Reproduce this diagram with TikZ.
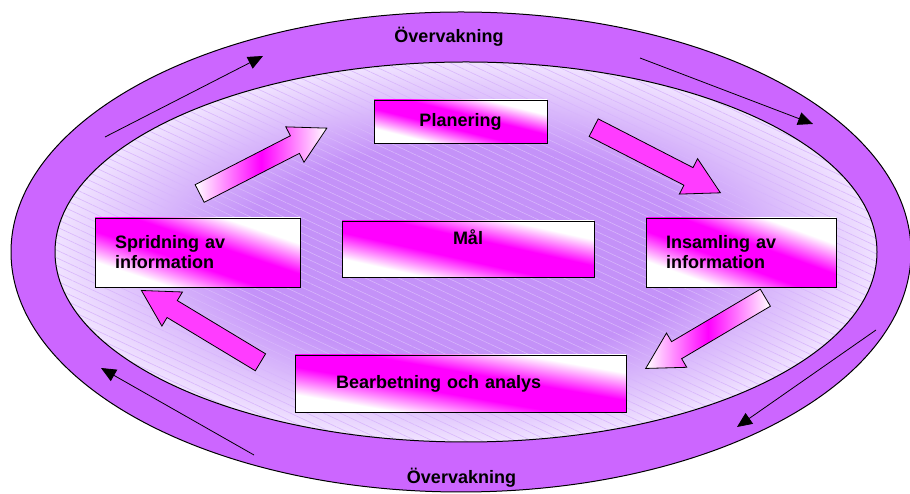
\documentclass[tikz,border=0pt]{standalone}
\usepackage{fontspec}
\setmainfont{Liberation Sans}
\usetikzlibrary{shapes.arrows, arrows.meta, patterns.meta}

\definecolor{ring}{RGB}{204,102,255}
\definecolor{lav}{RGB}{196,146,248}
\definecolor{pale}{RGB}{240,226,255}
\definecolor{hatch}{RGB}{216,182,252}
\definecolor{mag}{RGB}{255,0,255}
\definecolor{magsolid}{RGB}{255,60,255}
\pgfdeclareradialshading{glow}{\pgfpoint{0bp}{0bp}}{color(0bp)=(lav); color(14bp)=(lav); color(25bp)=(pale); color(50bp)=(pale)}
\pgfdeclareverticalshading{boxglow}{100bp}{color(0bp)=(white); color(30bp)=(white); color(44bp)=(mag); color(56bp)=(mag); color(70bp)=(white); color(100bp)=(white)}

\begin{document}
\begin{tikzpicture}[x=1pt,y=1pt,
    every node/.style={font=\bfseries\fontsize{18}{20}\selectfont},
    box/.style={draw=black, line width=0.8pt, shade, shading=boxglow, shading angle=#1, inner sep=0pt},
    bigarrow/.style={single arrow, draw=black, line width=0.8pt, inner xsep=0pt, inner ysep=9.5pt, minimum width=39pt, single arrow head extend=10pt, single arrow tip angle=58, anchor=tail},
    paleflow/.style={left color=white, right color=white, middle color=mag},
    fullflow/.style={fill=magsolid},
    cycle/.style={line width=0.8pt, -{Triangle[length=15pt,width=13pt]}}]
            \useasboundingbox (0,0) rectangle (910,494);
            \draw[line width=1pt, fill=ring] (461,242) ellipse [x radius=450, y radius=240];
            \path[shade, shading=glow] (466,242) ellipse [x radius=411, y radius=190];
            \path[pattern={Lines[angle=-25,distance=7pt,line width=0.6pt]}, pattern color=hatch] (466,242) ellipse [x radius=411, y radius=190];
            \draw[line width=1pt] (466,242) ellipse [x radius=411, y radius=190];

            \node (ovtop) at (449,457) {Övervakning};
            \node (ovbot) at (461.5,16) {Övervakning};

            \coordinate (nw0) at (105,357);
            \coordinate (nw1) at (263,438);
            \coordinate (ne0) at (640,436);
            \coordinate (ne1) at (813,370);
            \coordinate (se0) at (876,164);
            \coordinate (se1) at (737,67);
            \coordinate (sw0) at (254,39);
            \coordinate (sw1) at (101,126);
            \draw[cycle] (nw0) -- (nw1);
            \draw[cycle] (ne0) -- (ne1);
            \draw[cycle] (se0) -- (se1);
            \draw[cycle] (sw0) -- (sw1);

            \node[box=-14, minimum width=173pt, minimum height=43pt] (plan) at (460.5,372.5) {Planering};
            \node[box=-12.5, minimum width=252pt, minimum height=56pt, text height=13pt, text depth=21pt, inner ysep=11pt] (mal) at (468,245) {Mål};
            \node[box=-18.6, minimum width=205pt, minimum height=69pt, text width=165pt, align=left] (sprid) at (197.5,241.5) {Spridning av\\information};
            \node[box=-20, minimum width=190pt, minimum height=69pt, text width=150pt, align=left] (insam) at (741,241.5) {Insamling av\\information};
            \node[box=-9.8, minimum width=331pt, minimum height=57pt, text width=249pt, align=left] (bearb) at (460.5,110.5) {Bearbetning och analys};

            \node[bigarrow, paleflow, minimum height=143pt, rotate=27.2] (toplan) at (199.3,300.3) {};
            \node[bigarrow, fullflow, minimum height=142.5pt, rotate=-27.2] (toinsam) at (593.3,366.5) {};
            \node[bigarrow, paleflow, minimum height=139pt, rotate=210.6] (tobearb) at (765.7,196.5) {};
            \node[bigarrow, fullflow, minimum height=139pt, rotate=148.9] (tosprid) at (260.8,131.5) {};
        \end{tikzpicture}
\end{document}
